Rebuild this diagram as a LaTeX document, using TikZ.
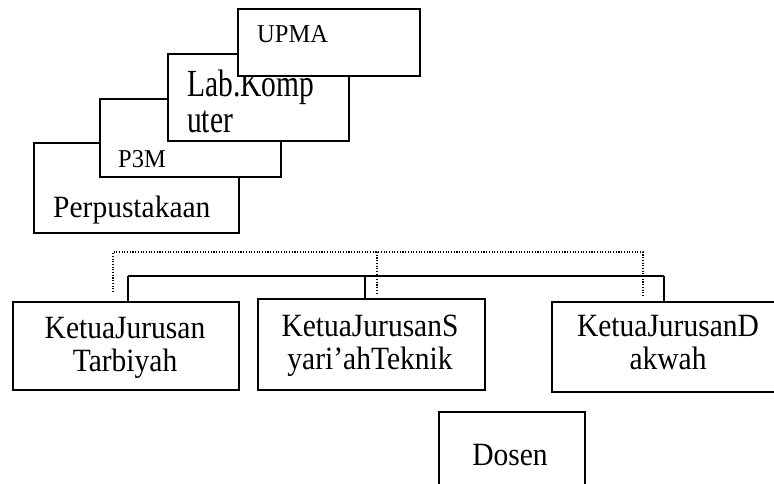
\documentclass[tikz,border=0pt]{standalone}
\usepackage{fontspec}
\usepackage{graphicx}
\setmainfont{Liberation Serif}
\usetikzlibrary{positioning}
\usetikzlibrary{calc}
\newcommand{\kjrow}[1]{\scalebox{1}[1.1]{#1}}
\newcommand{\labrow}[1]{\scalebox{1}[1.3]{#1}}

\tikzset{
  orgbox/.style={draw, fill=white, line width=1.8pt, inner sep=0pt, anchor=north west},
  bigtext/.style={font=\fontsize{29.5}{33}\selectfont, inner sep=0pt},
  smalltext/.style={font=\fontsize{24.5}{28}\selectfont, inner sep=0pt},
  busline/.style={line width=1.8pt},
  dotline/.style={line width=1.1pt, dash pattern=on 1.1pt off 1.6pt}
}

\begin{document}
\begin{tikzpicture}[x=1pt, y=-1pt]
   		\useasboundingbox (0,0) rectangle (774,483);
   		\clip (0,0) rectangle (774,483);
   		\def \BusY {276};
   		\def \DotY {252};
   		
   		% stacked units, back to front
   		\node[orgbox, minimum width=205pt, minimum height=90pt] (perpus) at (33,142) {};
   		\node[bigtext, anchor=base west] (perpustxt) at (53,217) {\scalebox{1}[1.05]{Perpustakaan}};
   		
   		\node[orgbox, minimum width=181pt, minimum height=78pt] (ppm) at (99,98) {};
   		\node[smalltext, anchor=base west] (ppmtxt) at (118,167) {\scalebox{1}[1.05]{P3M}};
   		
   		\node[orgbox, minimum width=181pt, minimum height=87pt] (labkom) at (167,53) {};
   		\node[bigtext, font=\fontsize{29.5}{36}\selectfont, anchor=north west, align=left] (labkomtxt) at (187,70) {\labrow{Lab.Komp}\\\labrow{uter}};
   		
   		\node[orgbox, minimum width=182pt, minimum height=67pt] (upma) at (237,8) {};
   		\node[smalltext, anchor=base west] (upmatxt) at (257,42) {\scalebox{1}[1.05]{UPMA}};
   		
   		% dotted line
   		\coordinate (dotl) at (113,\DotY);
   		\coordinate (dotm) at (377,\DotY);
   		\coordinate (dotr) at (643,\DotY);
   		\draw[dotline] ($(dotl)+(0,40)$) -- (dotl) -- (dotr) -- ++(0,45);
   		\draw[dotline] (dotm) -- ++(0,43);
   		
   		% jurusan
   		\node[orgbox, minimum width=226pt, minimum height=88pt] (kjtar) at (12,301) {};
   		\node[bigtext, anchor=north, align=center] (kjtartxt) at (125,317.5) {\kjrow{KetuaJurusan}\\\kjrow{Tarbiyah}};
   		
   		\node[orgbox, minimum width=227pt, minimum height=91pt] (kjsya) at (257,298) {};
   		\node[bigtext, anchor=north, align=center] (kjsyatxt) at (370,314.5) {\kjrow{KetuaJurusanS}\\\kjrow{yari’ahTeknik}};
   		
   		\node[orgbox, minimum width=234pt, minimum height=90pt] (kjdak) at (551,301) {};
   		\node[bigtext, anchor=north, align=center] (kjdaktxt) at (668,315.5) {\kjrow{KetuaJurusanD}\\\kjrow{akwah}};
   		
   		\coordinate (busl) at (128,\BusY);
   		\coordinate (busm) at (365,\BusY);
   		\coordinate (busr) at (664,\BusY);
   		\draw[busline] (busl) -- (busr);
   		\draw[busline] (busl) -- (busl |- kjtar.north);
   		\draw[busline] (busm) -- (busm |- kjsya.north);
   		\draw[busline] (busr) -- (busr |- kjdak.north);
   		
   		\node[orgbox, minimum width=146pt, minimum height=100pt] (dosen) at (438,411) {};
   		\node[bigtext, anchor=base] (dosentxt) at (510,465) {\kjrow{Dosen}};
\end{tikzpicture}
\end{document}
